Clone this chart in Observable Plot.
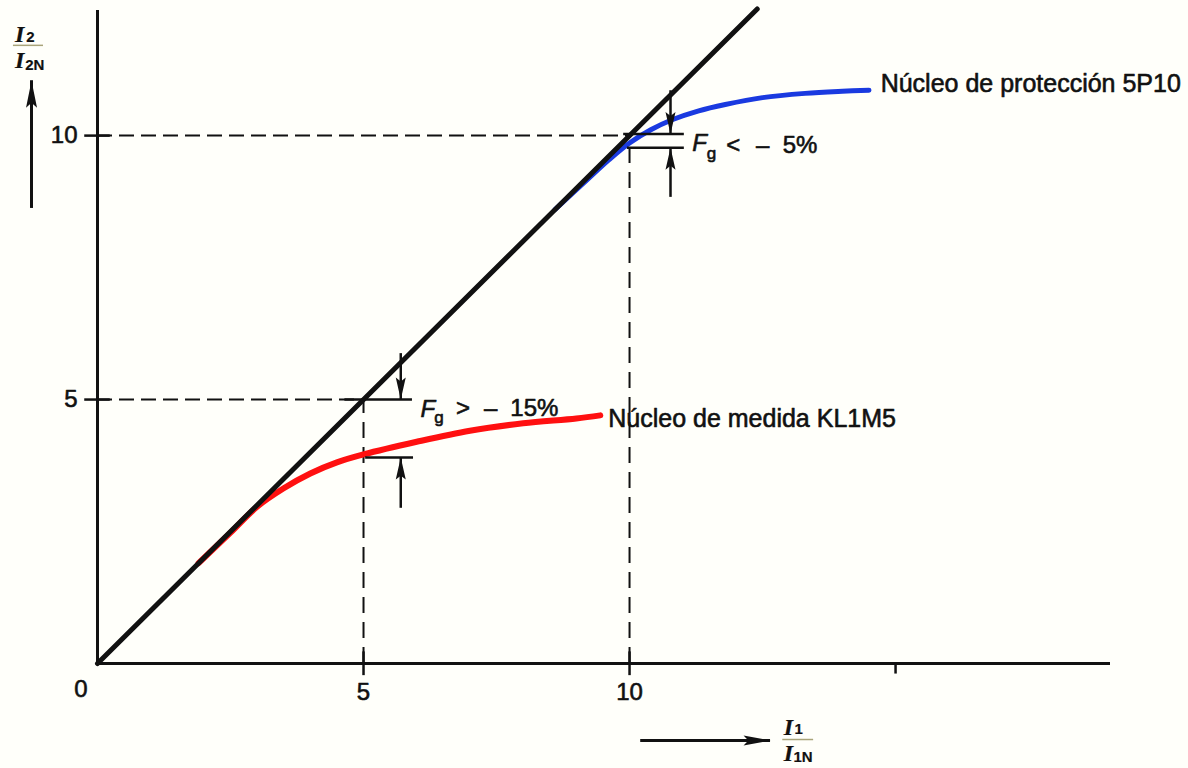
<!DOCTYPE html>
<html><head><meta charset="utf-8">
<script src="https://cdn.jsdelivr.net/npm/d3@7"></script>
<script src="https://cdn.jsdelivr.net/npm/@observablehq/plot@0.6"></script>
<style>
html,body{margin:0;padding:0;background:#fffffa;}
#chart svg{display:block;}
</style>
</head><body><div id="chart"></div>
<script>
// ---- data ----
const xDomain = [0, 19.04];
const yDomain = [0, 12.37];

const idealX = [0, 12.4];            // ideal transformer: I2/I2N = I1/I1N

const protX = [8.6, 9.2, 9.6, 10.0, 10.4, 10.8, 11.3, 11.8, 12.5, 13.3, 14.0, 14.5];
const protY = [8.6, 9.16, 9.53, 9.86, 10.11, 10.3, 10.47, 10.59, 10.72, 10.8, 10.84, 10.86];
const protLabel = "Núcleo de protección 5P10";

const measX = [1.9, 2.5, 3.0, 3.5, 4.0, 4.5, 5.0, 6.0, 7.0, 8.0, 9.0, 9.45];
const measY = [1.9, 2.48, 2.97, 3.32, 3.6, 3.81, 3.96, 4.2, 4.41, 4.55, 4.64, 4.7];
const measLabel = "Núcleo de medida KL1M5";

const xTicks = [5, 10];
const xTickLabels = ["5", "10"];
const xMinorTicks = [15];
const yTicks = [5, 10];
const yTickLabels = ["5", "10"];
const originLabel = "0";

const guideX = [5, 10];
const guideY = [5, 10];

// bracket lines (Fg annotations)
const bracketX1 = [4.65, 5.04, 9.89, 9.96];
const bracketX2 = [5.92, 5.94, 11.03, 11.03];
const bracketY  = [5.0, 3.9, 10.03, 9.77];

// bracket arrows: shaft start -> tip
const arrowX    = [5.7, 5.7, 10.77, 10.77];
const arrowFrom = [5.87, 2.94, 10.85, 8.83];
const arrowTip  = [5.0, 3.9, 10.03, 9.77];

// formula pieces
const fTexts  = ["F", "g", "<", "–", "5%", "F", "g", ">", "–", "15%"];
const fX      = [11.18, 11.45, 11.95, 12.5, 12.88, 6.07, 6.33, 6.87, 7.39, 7.76];
const fY      = [9.86, 9.66, 9.81, 9.81, 9.81, 4.82, 4.66, 4.83, 4.83, 4.83];
const fSize   = [24, 17, 24, 24, 24, 24, 17, 24, 24, 24];
const fItalic = [true, false, false, false, false, true, false, false, false, false];
const fAnchor = ["start","start","middle","middle","start","start","start","middle","middle","start"];

// axis-quantity labels (fractions)
const qTexts = ["I", "2", "I", "2N", "I", "1", "I", "1N"];
const qX     = [-1.55, -1.34, -1.55, -1.36, 12.9, 13.1, 12.9, 13.08];
const qY     = [11.92, 11.86, 11.43, 11.33, -1.20, -1.25, -1.70, -1.78];
const qSerif = [true, false, true, false, true, false, true, false];
const barX1 = [-1.58, 12.88];
const barX2 = [-1.015, 13.46];
const barY  = [11.71, -1.44];

// axis direction arrows
const yArrow = {x: -1.24, from: 8.62, tip: 11.04};
const xArrow = {y: -1.46, from: 10.21, tip: 12.65};

// ---- arrowhead symbols (tip at anchor) ----
function head(dir, L, W) {
  const pts = [[0,0],[-W/2,L],[0,L*0.82],[W/2,L]];
  const tf = {up:([a,b])=>[a,b], down:([a,b])=>[a,-b], right:([a,b])=>[-b,a]}[dir];
  return {draw(ctx){ const p = pts.map(tf); ctx.moveTo(p[0][0],p[0][1]); for (let i=1;i<p.length;i++) ctx.lineTo(p[i][0],p[i][1]); ctx.closePath(); }};
}
const smallUp = head("up", 22, 10), smallDown = head("down", 22, 10);
const bigUp = head("up", 27, 11), bigRight = head("right", 27, 10);

const ink = "#111";
const sans = "Liberation Sans, Arial, Helvetica, sans-serif";
const serif = "Liberation Serif, Times New Roman, serif";
const bolden = {stroke: ink, strokeWidth: 0.6};

const ideal = idealX.map(v => ({x: v, y: v}));
const prot = protX.map((v,i) => ({x: v, y: protY[i]}));
const meas = measX.map((v,i) => ({x: v, y: measY[i]}));
const guides = guideX.map((v,i) => ({x: v, y: guideY[i]}));
const brackets = bracketY.map((v,i) => ({y: v, x1: bracketX1[i], x2: bracketX2[i]}));
const arrows = arrowX.map((v,i) => ({x: v, y1: arrowFrom[i], y2: arrowTip[i]}));
const formula = fTexts.map((t,i) => ({t, x: fX[i], y: fY[i], size: fSize[i], it: fItalic[i], anchor: fAnchor[i]}));
const quant = qTexts.map((t,i) => ({t, x: qX[i], y: qY[i], serif: qSerif[i]}));
const bars = barY.map((v,i) => ({y: v, x1: barX1[i], x2: barX2[i]}));

const marks = [
  // dashed guides
  Plot.ruleY(guides, {y: "y", x1: 0, x2: "x", stroke: ink, strokeWidth: 2, strokeDasharray: "15,7"}),
  Plot.ruleX(guides, {x: "x", y1: 0, y2: "y", stroke: ink, strokeWidth: 2, strokeDasharray: "16,9"}),
  // axes
  Plot.ruleX([0], {y1: 0, y2: yDomain[1], stroke: ink, strokeWidth: 3}),
  Plot.ruleY([0], {x1: 0, x2: xDomain[1], stroke: ink, strokeWidth: 3}),
  Plot.ruleX(xTicks, {y1: -0.23, y2: 0.22, stroke: ink, strokeWidth: 2.5}),
  Plot.ruleX(xMinorTicks, {y1: -0.2, y2: 0, stroke: ink, strokeWidth: 2.5}),
  Plot.ruleY(yTicks, {x1: -0.24, x2: 0.24, stroke: ink, strokeWidth: 2.5}),
  // tick labels
  Plot.text(xTicks, {x: d => d, y: -0.55, text: (d,i) => xTickLabels[i], fontSize: 24, fill: ink, ...bolden}),
  Plot.text(yTicks, {x: -0.376, y: d => d, text: (d,i) => yTickLabels[i], fontSize: 24, fill: ink, textAnchor: "end", ...bolden}),
  Plot.text([originLabel], {x: -0.31, y: -0.49, text: d => d, fontSize: 24, fill: ink, ...bolden}),
  // curves
  Plot.line(meas, {x: "x", y: "y", stroke: "#ff1010", strokeWidth: 6, curve: "catmull-rom"}),
  Plot.line(prot, {x: "x", y: "y", stroke: "#1a3ae0", strokeWidth: 5, curve: "catmull-rom"}),
  Plot.line(ideal, {x: "x", y: "y", stroke: ink, strokeWidth: 5}),
  // curve labels
  Plot.text([protLabel], {x: protX[protX.length-1] + 0.22, y: 10.97, text: d => d, fontSize: 25, fill: ink, textAnchor: "start", ...bolden}),
  Plot.text([measLabel], {x: measX[measX.length-1] + 0.15, y: 4.64, text: d => d, fontSize: 25, fill: ink, textAnchor: "start", ...bolden}),
  // brackets
  Plot.ruleY(brackets, {y: "y", x1: "x1", x2: "x2", stroke: ink, strokeWidth: 2.5}),
  Plot.ruleX(arrows, {x: "x", y1: "y1", y2: "y2", stroke: ink, strokeWidth: 2.5}),
  Plot.dot(arrows.filter(d => d.y1 > d.y2), {x: "x", y: "y2", symbol: smallDown, fill: ink, stroke: "none", r: 5}),
  Plot.dot(arrows.filter(d => d.y1 < d.y2), {x: "x", y: "y2", symbol: smallUp, fill: ink, stroke: "none", r: 5}),
  // formulas
  ...formula.map(d => Plot.text([d], {x: "x", y: "y", text: "t", fontSize: d.size, fill: ink, textAnchor: d.anchor,
      fontStyle: d.it ? "italic" : "normal", ...bolden})),
  // axis quantity labels
  Plot.ruleY(bars, {y: "y", x1: "x1", x2: "x2", stroke: "#a9a47a", strokeWidth: 1.5}),
  ...quant.map(d => Plot.text([d], {x: "x", y: "y", text: "t", fill: ink, textAnchor: "start",
      fontSize: d.serif ? 24 : 15, fontStyle: d.serif ? "italic" : "normal", fontWeight: "bold",
      fontFamily: d.serif ? serif : sans, stroke: ink, strokeWidth: 0.2})),
  // axis arrows
  Plot.ruleX([yArrow], {x: "x", y1: "from", y2: "tip", stroke: ink, strokeWidth: 3}),
  Plot.dot([yArrow], {x: "x", y: "tip", symbol: bigUp, fill: ink, stroke: "none", r: 5}),
  Plot.ruleY([xArrow], {y: "y", x1: "from", x2: "tip", stroke: ink, strokeWidth: 3}),
  Plot.dot([xArrow], {x: "tip", y: "y", symbol: bigRight, fill: ink, stroke: "none", r: 5})
];

const chart = Plot.plot({
  width: 1188, height: 768,
  marginLeft: 97, marginRight: 78, marginTop: 10, marginBottom: 105,
  x: {domain: xDomain, axis: null},
  y: {domain: yDomain, axis: null},
  style: {background: "transparent", fontFamily: sans, color: ink},
  marks
});
document.getElementById("chart").appendChild(chart);
</script>
</body></html>
